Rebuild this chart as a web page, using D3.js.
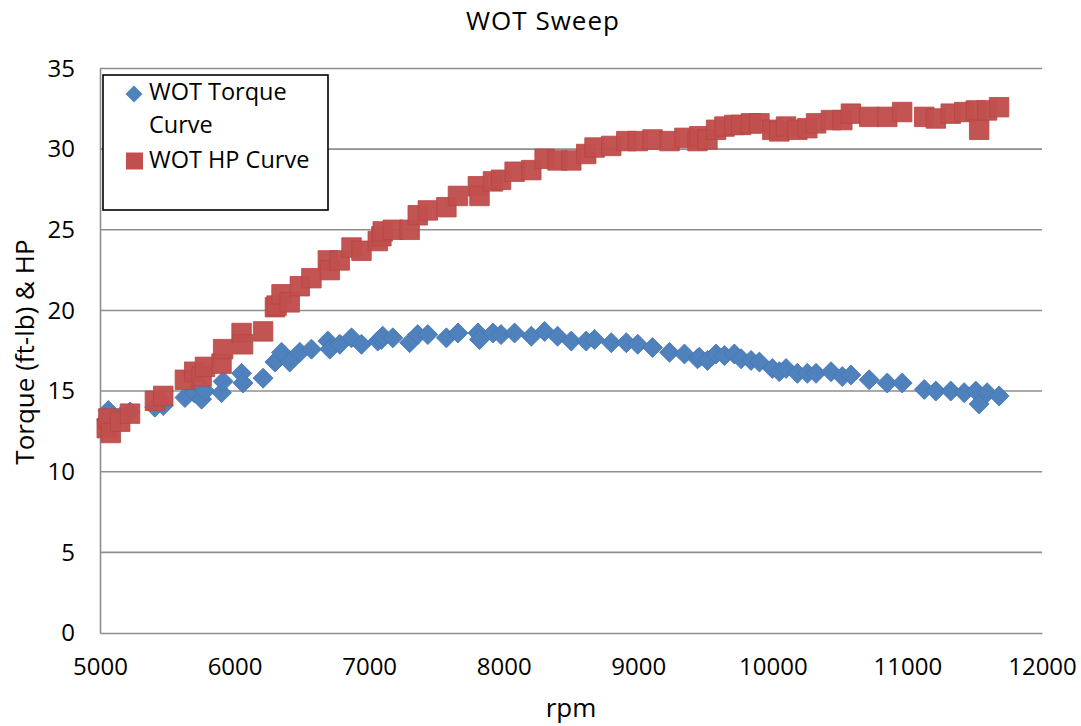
<!DOCTYPE html>
<html>
<head>
<meta charset="utf-8">
<script src="https://cdn.jsdelivr.net/npm/d3@7"></script>
<style>
  html, body { margin: 0; padding: 0; background: #fff; }
  svg { display: block; font-family: "Open Sans", "Noto Sans", sans-serif; }
</style>
</head>
<body>
<svg id="chart" width="1081" height="726"></svg>
<script>
// ---- data ----
const rpm = [5050, 5062, 5080, 5150, 5223, 5408, 5470, 5631, 5700, 5755, 5780, 5903, 5915, 6052, 6063, 6212,
  6300, 6312, 6349, 6410, 6485, 6571, 6693, 6708, 6782, 6869, 6943, 7064, 7091, 7101, 7176, 7301, 7361, 7436,
  7574, 7660, 7808, 7820, 7920, 7980, 8081, 8205, 8304, 8400, 8502, 8613, 8675, 8799, 8911, 8996, 9106, 9232,
  9343, 9440, 9454, 9514, 9578, 9640, 9714, 9764, 9838, 9900, 9996, 10048, 10098, 10182, 10256, 10321, 10432,
  10516, 10580, 10716, 10850, 10961, 11125, 11211, 11322, 11422, 11508, 11533, 11592, 11681];
const torque = [13.2, 13.8, 12.8, 13.4, 13.7, 14.0, 14.1, 14.6, 14.9, 14.5, 15.0, 14.9, 15.6, 16.1, 15.5, 15.8,
  16.8, 16.9, 17.4, 16.8, 17.4, 17.6, 18.1, 17.6, 17.9, 18.3, 17.9, 18.1, 18.2, 18.4, 18.3, 18.0, 18.5, 18.5,
  18.3, 18.6, 18.6, 18.2, 18.6, 18.5, 18.6, 18.4, 18.7, 18.4, 18.1, 18.1, 18.2, 18.0, 18.0, 17.9, 17.7, 17.4,
  17.3, 17.0, 17.1, 16.9, 17.3, 17.2, 17.3, 17.0, 16.9, 16.8, 16.4, 16.2, 16.4, 16.1, 16.1, 16.1, 16.2,
  15.9, 16.0, 15.7, 15.5, 15.5, 15.1, 15.0, 15.0, 14.9, 15.0, 14.2, 14.9, 14.7];
const hp = [12.7, 13.3, 12.4, 13.1, 13.6, 14.4, 14.7, 15.7, 16.2, 15.9, 16.5, 16.7, 17.6, 18.6, 17.9, 18.7,
  20.2, 20.3, 21.0, 20.5, 21.5, 22.0, 23.1, 22.5, 23.1, 23.9, 23.7, 24.3, 24.6, 24.9, 25.0, 25.0, 25.9, 26.2,
  26.4, 27.1, 27.7, 27.1, 28.0, 28.1, 28.6, 28.7, 29.4, 29.3, 29.3, 29.7, 30.1, 30.2, 30.5, 30.5, 30.6, 30.5,
  30.7, 30.5, 30.8, 30.6, 31.2, 31.4, 31.5, 31.5, 31.6, 31.6, 31.2, 31.1, 31.4, 31.2, 31.3, 31.6, 31.8,
  31.8, 32.2, 32.0, 32.0, 32.3, 32.0, 31.9, 32.2, 32.3, 32.4, 31.2, 32.4, 32.6];
const xTicks = [5000, 6000, 7000, 8000, 9000, 10000, 11000, 12000];
const yTicks = [0, 5, 10, 15, 20, 25, 30, 35];
const seriesNames = ["WOT Torque Curve", "WOT HP Curve"];
const titleText = "WOT Sweep";
const xTitle = "rpm";
const yTitle = "Torque (ft-lb) & HP";

// ---- layout ----
const svg = d3.select("#chart");
const pLeft = 100, pRight = 1042, pTop = 68.5, pBottom = 633;
const x = d3.scaleLinear().domain([5000, 12000]).range([pLeft, pRight]);
const y = d3.scaleLinear().domain([0, 35]).range([pBottom, pTop]);
const blue = "#4f81bd", red = "#c0504d";

// gridlines
svg.append("g").selectAll("line").data(yTicks.filter(d => d > 0)).join("line")
  .attr("x1", pLeft).attr("x2", pRight)
  .attr("y1", d => y(d)).attr("y2", d => y(d))
  .attr("stroke", "#8e8e8e").attr("stroke-width", 1.6);

// axes
const xAxis = svg.append("g").attr("transform", `translate(0,${pBottom})`)
  .call(d3.axisBottom(x).tickValues(xTicks).tickSize(0).tickPadding(25).tickFormat(d3.format("d")));
xAxis.select(".domain").attr("stroke", "#8e8e8e").attr("stroke-width", 1.6);
xAxis.selectAll("text").attr("font-size", 24).attr("fill", "#000").attr("font-family", "Open Sans");

const yAxis = svg.append("g").attr("transform", `translate(${pLeft},0)`)
  .call(d3.axisLeft(y).tickValues(yTicks).tickSize(0).tickPadding(25));
yAxis.select(".domain").attr("stroke", "#8e8e8e").attr("stroke-width", 1.6);
yAxis.selectAll("text").attr("font-size", 24).attr("fill", "#000").attr("font-family", "Open Sans");

// markers
const diamond = d3.symbol().type(d3.symbolSquare).size(200);
const square = d3.symbol().type(d3.symbolSquare).size(380);

svg.append("g").selectAll("path").data(rpm).join("path")
  .attr("d", diamond)
  .attr("transform", (d, i) => `translate(${x(d)},${y(torque[i])}) rotate(45)`)
  .attr("fill", blue).attr("stroke", "#4576b5").attr("stroke-width", 0.8);

svg.append("g").selectAll("path").data(rpm).join("path")
  .attr("d", square)
  .attr("transform", (d, i) => `translate(${x(d)},${y(hp[i])})`)
  .attr("fill", red).attr("stroke", "#b94541").attr("stroke-width", 0.8).attr("fill-opacity", 0.97);

// titles
svg.append("text").attr("x", 543).attr("y", 30).attr("text-anchor", "middle")
  .attr("font-size", 26).attr("letter-spacing", 1).attr("fill", "#000").text(titleText);
svg.append("text").attr("x", 571).attr("y", 717).attr("text-anchor", "middle")
  .attr("font-size", 26).attr("fill", "#000").text(xTitle);
svg.append("text").attr("transform", "translate(34,352) rotate(-90)").attr("text-anchor", "middle")
  .attr("font-size", 26).attr("fill", "#000").text(yTitle);

// legend
const lg = svg.append("g");
lg.append("rect").attr("x", 103).attr("y", 75).attr("width", 225).attr("height", 135)
  .attr("fill", "#fff").attr("stroke", "#000").attr("stroke-width", 1.6);
lg.append("path").attr("d", d3.symbol().type(d3.symbolSquare).size(145))
  .attr("transform", "translate(134,94) rotate(45)").attr("fill", blue);
lg.append("path").attr("d", d3.symbol().type(d3.symbolSquare).size(289))
  .attr("transform", "translate(134.5,161)").attr("fill", red);
const words = seriesNames[0].split(" ");
lg.append("text").attr("x", 149).attr("y", 100).attr("font-size", 23.5).attr("fill", "#000")
  .text(words.slice(0, 2).join(" "));
lg.append("text").attr("x", 149).attr("y", 133).attr("font-size", 23.5).attr("fill", "#000")
  .text(words.slice(2).join(" "));
lg.append("text").attr("x", 149).attr("y", 168).attr("font-size", 23.5).attr("fill", "#000")
  .text(seriesNames[1]);
</script>
</body>
</html>
